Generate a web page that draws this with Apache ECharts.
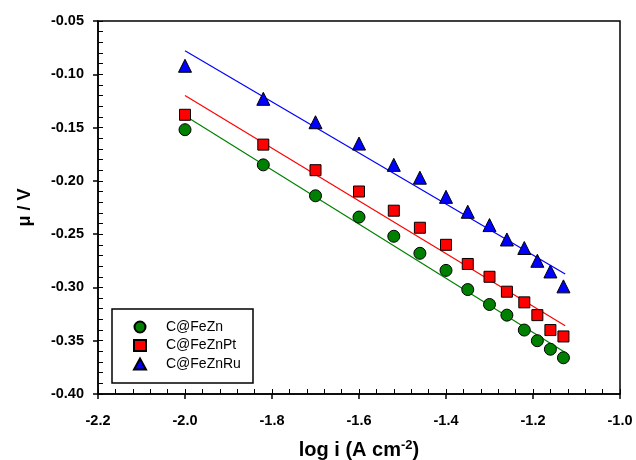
<!DOCTYPE html>
<html>
<head>
    <meta charset="utf-8">
    <title>ECharts</title>
    <script src="https://cdn.jsdelivr.net/npm/echarts@6/dist/echarts.min.js"></script>
    <style>
        html, body { margin: 0; padding: 0; background: #fff; }
    </style>
</head>
<body>
<div id="main" style="width: 636px;height: 460px"></div>
<script>
    // 数据
    var logI = [-2.00, -1.82, -1.70, -1.60, -1.52, -1.46, -1.40, -1.35, -1.30, -1.26, -1.22, -1.19, -1.16, -1.13];
    var feZn = [-0.152, -0.185, -0.214, -0.234, -0.252, -0.268, -0.284, -0.302, -0.316, -0.326, -0.340, -0.350, -0.358, -0.366];
    var feZnPt = [-0.138, -0.166, -0.190, -0.210, -0.228, -0.244, -0.260, -0.278, -0.290, -0.304, -0.314, -0.326, -0.340, -0.346];
    var feZnRu = [-0.092, -0.123, -0.145, -0.165, -0.185, -0.197, -0.215, -0.229, -0.2415, -0.255, -0.263, -0.275, -0.285, -0.299];

    // 拟合直线端点
    var fitX = [-2.0, -1.126];
    var fitFeZn = [-0.139, -0.361];
    var fitFeZnPt = [-0.120, -0.336];
    var fitFeZnRu = [-0.078, -0.2875];

    var names = ['C@FeZn', 'C@FeZnPt', 'C@FeZnRu'];

    function pairs(xs, ys) {
        var out = [];
        for (var i = 0; i < xs.length; i++) {
            out.push([xs[i], ys[i]]);
        }
        return out;
    }

    var font = 'Arial, "Liberation Sans", sans-serif';
    var myChart = echarts.init(document.getElementById('main'));

    var labelStyle = { color: '#000', fontFamily: font, fontWeight: 'bold', fontSize: 14.5 };

    myChart.setOption({
        animation: false,
        grid: {
            left: 98, right: 16, top: 21, bottom: 66,
            outerBoundsMode: 'none',
            show: true, borderColor: '#000', borderWidth: 1.5
        },
        legend: {
            data: names,
            orient: 'vertical',
            left: 133,
            top: 320,
            padding: 0,
            itemGap: 4.5,
            itemWidth: 12,
            itemHeight: 11,
            symbolKeepAspect: true,
            textStyle: { color: '#000', fontFamily: font, fontSize: 14, padding: [0, 0, 0, 15] }
        },
        graphic: [{
            type: 'rect',
            shape: { x: 112, y: 309, width: 141, height: 74 },
            style: { fill: '#fff', stroke: '#000', lineWidth: 1.5 },
            z: 1
        }],
        xAxis: [{
            type: 'value',
            min: -2.2, max: -1.0, interval: 0.2,
            axisLine: { lineStyle: { color: '#000', width: 1.5 } },
            axisTick: { show: true, length: 5, lineStyle: { color: '#000', width: 1.5 } },
            axisLabel: Object.assign({ margin: 19, formatter: function (v) { return v.toFixed(1); } }, labelStyle),
            splitLine: { show: false },
            name: '{a|log i (A cm}{s|-2}{a|)}',
            nameLocation: 'middle',
            nameGap: 45,
            nameTextStyle: {
                rich: {
                    a: { fontFamily: font, fontWeight: 'bold', fontSize: 20, color: '#000' },
                    s: { fontFamily: font, fontWeight: 'bold', fontSize: 13, color: '#000', padding: [0, 0, 10, 0] }
                }
            }
        }, {
            type: 'value',
            position: 'bottom',
            min: -2.2, max: -1.0, interval: 0.2,
            axisLine: { show: false },
            axisLabel: { show: false },
            axisTick: { show: true, inside: true, length: 5, lineStyle: { color: '#000', width: 1 } },
            minorTick: { show: true, splitNumber: 5, length: 5, lineStyle: { color: '#000', width: 1 } },
            splitLine: { show: false }
        }],
        yAxis: [{
            type: 'value',
            min: -0.40, max: -0.05, interval: 0.05,
            axisLine: { show: true, lineStyle: { color: '#000', width: 1.5 } },
            axisTick: { show: true, length: 5, lineStyle: { color: '#000', width: 1.5 } },
            axisLabel: Object.assign({ margin: 14, formatter: function (v) { return v.toFixed(2); } }, labelStyle),
            splitLine: { show: false },
            name: 'μ / V',
            nameLocation: 'middle',
            nameGap: 64,
            nameTextStyle: { fontFamily: font, fontWeight: 'bold', fontSize: 18, color: '#000' }
        }, {
            type: 'value',
            position: 'left',
            min: -0.40, max: -0.05, interval: 0.05,
            axisLine: { show: false },
            axisLabel: { show: false },
            axisTick: { show: true, inside: true, length: 5, lineStyle: { color: '#000', width: 1 } },
            minorTick: { show: true, splitNumber: 5, length: 5, lineStyle: { color: '#000', width: 1 } },
            splitLine: { show: false }
        }],
        series: [
            {
                name: 'fitZn', type: 'line', data: pairs(fitX, fitFeZn), showSymbol: false,
                lineStyle: { color: '#008000', width: 1.2 }, z: 2
            },
            {
                name: 'fitPt', type: 'line', data: pairs(fitX, fitFeZnPt), showSymbol: false,
                lineStyle: { color: '#ff0000', width: 1.2 }, z: 2
            },
            {
                name: 'fitRu', type: 'line', data: pairs(fitX, fitFeZnRu), showSymbol: false,
                lineStyle: { color: '#0000ff', width: 1.2 }, z: 2
            },
            {
                name: 'C@FeZn', type: 'scatter', data: pairs(logI, feZn),
                symbol: 'circle', symbolSize: 12,
                itemStyle: { color: '#008000', borderColor: '#000', borderWidth: 1, opacity: 1 }, z: 3
            },
            {
                name: 'C@FeZnPt', type: 'scatter', data: pairs(logI, feZnPt),
                symbol: 'rect', symbolSize: 11,
                itemStyle: { color: '#ff0000', borderColor: '#000', borderWidth: 1, opacity: 1 }, z: 3
            },
            {
                name: 'C@FeZnRu', type: 'scatter', data: pairs(logI, feZnRu),
                symbol: 'triangle', symbolSize: 13,
                itemStyle: { color: '#0000ff', borderColor: '#000', borderWidth: 1, opacity: 1 }, z: 3
            }
        ]
    });
</script>
</body>
</html>
